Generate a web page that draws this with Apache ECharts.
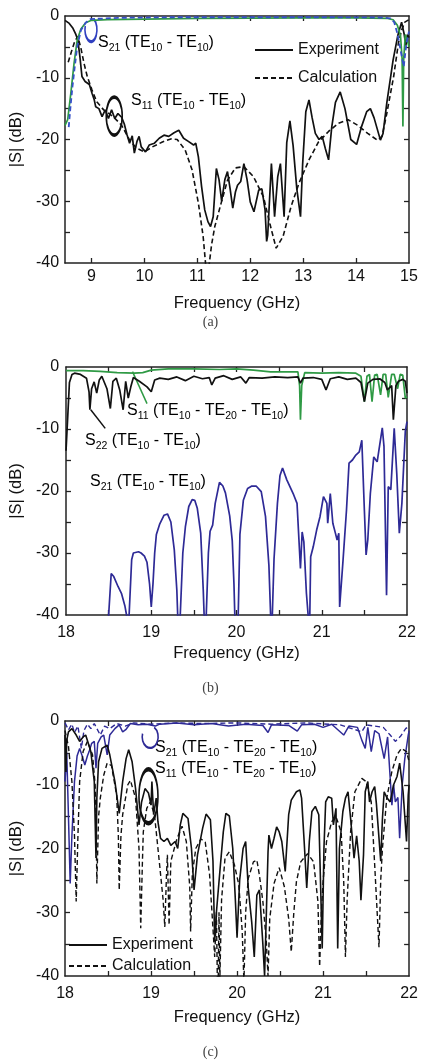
<!DOCTYPE html>
<html>
<head>
<meta charset="utf-8">
<script src="https://cdn.jsdelivr.net/npm/echarts@6/dist/echarts.min.js"></script>
<style>
html, body { margin: 0; padding: 0; background: #fff; }
#chart { width: 421px; height: 1062px; }
</style>
</head>
<body>
<div id="chart"></div>
<script>
// ---- panel (a): 8.5 - 15 GHz ----
var aS11Exp = [[8.5,-0.7],[8.58,-1.2],[8.65,-2.0],[8.7,-2.9],[8.74,-3.8],[8.78,-6.5],[8.82,-9.8],[8.88,-10.6],[8.96,-11.1],[9.01,-12.5],[9.05,-13.5],[9.08,-14.7],[9.14,-15.0],[9.2,-16.3],[9.26,-15.2],[9.32,-16.6],[9.38,-15.2],[9.44,-16.6],[9.5,-15.8],[9.57,-16.4],[9.62,-17.5],[9.67,-19.2],[9.72,-20.6],[9.77,-19.4],[9.81,-22.2],[9.86,-20.3],[9.9,-19.5],[9.94,-21.2],[10.02,-22],[10.09,-20.9],[10.19,-20.6],[10.28,-19.8],[10.37,-19.3],[10.46,-19.5],[10.56,-18.9],[10.65,-18.5],[10.74,-19.8],[10.83,-20.3],[10.93,-20.9],[10.97,-20.6],[11.02,-22.8],[11.08,-27.6],[11.14,-31.4],[11.2,-33.3],[11.25,-34.1],[11.3,-32.5],[11.36,-24.7],[11.41,-26.5],[11.46,-30],[11.52,-26.5],[11.57,-25.2],[11.62,-28],[11.67,-31.1],[11.72,-28.5],[11.76,-27.4],[11.82,-26.8],[11.88,-23.9],[11.94,-26.5],[12.0,-30.1],[12.07,-31.7],[12.16,-28.2],[12.22,-28],[12.28,-31.4],[12.31,-36.5],[12.33,-35.5],[12.4,-23.9],[12.46,-32.5],[12.52,-26],[12.57,-23.9],[12.64,-32.5],[12.69,-20.5],[12.75,-17],[12.81,-21],[12.88,-28],[12.95,-32.5],[12.99,-24],[13.05,-15.5],[13.11,-13.6],[13.17,-16.5],[13.23,-19],[13.3,-20],[13.36,-19.5],[13.42,-21.5],[13.48,-23.3],[13.54,-18],[13.61,-14],[13.7,-12.3],[13.79,-15],[13.9,-20],[14.01,-20.8],[14.1,-18],[14.2,-15.5],[14.27,-15],[14.34,-16.5],[14.46,-20.1],[14.51,-19],[14.58,-14.1],[14.7,-7.1],[14.79,-3.1],[14.86,-1.0],[14.91,-3],[14.94,-4.8],[14.97,-3],[15,-3.5]];
var aS11Calc = [[8.56,-7.5],[8.62,-5.8],[8.68,-4.2],[8.74,-3.3],[8.8,-5.2],[8.86,-7.7],[8.92,-9.8],[9.01,-12],[9.1,-13.9],[9.23,-15.2],[9.41,-16.3],[9.57,-17.7],[9.72,-20.1],[9.85,-21.4],[10.0,-22],[10.15,-21.2],[10.34,-20.4],[10.5,-19.9],[10.62,-20.0],[10.77,-21.7],[10.9,-24.9],[11.02,-30.3],[11.11,-35.7],[11.16,-40.5],[11.22,-40.5],[11.27,-37],[11.33,-34.1],[11.45,-30.3],[11.57,-26.6],[11.72,-24.6],[11.88,-24.4],[12.06,-26],[12.25,-29.3],[12.37,-33.6],[12.49,-37.6],[12.62,-35.7],[12.77,-30.9],[12.92,-27.1],[13.11,-23.3],[13.29,-20.4],[13.48,-18.7],[13.66,-17.4],[13.85,-16.8],[14.03,-17.7],[14.22,-19],[14.4,-20.1],[14.49,-19.5],[14.58,-15.8],[14.71,-9.8],[14.8,-4.4],[14.86,-2.3],[14.92,-1],[15,-0.6]];
var aS21Exp = [[8.5,-17.7],[8.55,-16.8],[8.61,-12.5],[8.67,-7.7],[8.73,-3.9],[8.8,-2.1],[8.89,-1.1],[9.0,-0.7],[9.3,-0.6],[10,-0.5],[11,-0.4],[12,-0.35],[13,-0.3],[14,-0.3],[14.6,-0.4],[14.7,-0.6],[14.78,-1.5],[14.84,-3.2],[14.87,-7],[14.885,-17.9],[14.9,-7],[14.93,-3],[14.97,-4],[15,-5]];
var aS21Calc = [[8.57,-18],[8.6,-15],[8.64,-11.5],[8.68,-8.5],[8.73,-5],[8.8,-2.3],[8.89,-1.1],[8.98,-0.5],[9.5,-0.3],[10.5,-0.2],[12,-0.2],[13.5,-0.2],[14.5,-0.25],[14.65,-0.4],[14.72,-1],[14.78,-2.8],[14.84,-5.5],[14.9,-8.2],[14.95,-4.5],[15,-2.5]];

// ---- panel (b): 18 - 22 GHz ----
var bS11 = [[18.0,-0.6],[18.2,-0.6],[18.4,-0.7],[18.6,-0.9],[18.8,-1.0],[18.9,-0.9],[19.0,-0.5],[19.2,-0.3],[19.5,-0.3],[19.8,-0.4],[20.0,-0.3],[20.2,-0.5],[20.4,-0.8],[20.6,-0.8],[20.72,-0.8],[20.74,-3],[20.75,-8.5],[20.765,-3],[20.8,-0.9],[21.0,-1.0],[21.2,-0.9],[21.4,-1.0],[21.46,-1.5],[21.5,-5.6],[21.53,-1.5],[21.56,-1.2],[21.59,-5.6],[21.62,-1.3],[21.65,-1.2],[21.69,-4.5],[21.72,-1.2],[21.75,-1.2],[21.78,-4.9],[21.82,-1.2],[21.85,-1.2],[21.89,-3.5],[21.92,-1.2],[21.95,-1.3],[21.98,-5],[22,-4.8]];
var bS22 = [[18.0,-13.5],[18.02,-8],[18.04,-2.5],[18.07,-1.2],[18.1,-1.0],[18.17,-1.2],[18.24,-1.8],[18.27,-4],[18.28,-6.9],[18.3,-3.5],[18.33,-2.4],[18.36,-4.2],[18.39,-2.1],[18.42,-1.5],[18.45,-2.5],[18.48,-3.5],[18.52,-6.7],[18.55,-2.3],[18.59,-1.8],[18.63,-3.7],[18.67,-6.9],[18.7,-2.3],[18.73,-5],[18.76,-3.2],[18.79,-1.7],[18.86,-2.3],[18.95,-3.2],[19.0,-4.0],[19.04,-2.1],[19.1,-1.8],[19.2,-2.0],[19.3,-1.6],[19.4,-2.2],[19.5,-1.5],[19.6,-1.9],[19.68,-1.7],[19.71,-2.9],[19.75,-1.8],[19.85,-1.4],[19.95,-2.0],[20.05,-1.6],[20.11,-2.6],[20.15,-1.7],[20.3,-1.8],[20.45,-1.6],[20.6,-1.7],[20.72,-1.6],[20.75,-2.6],[20.78,-1.8],[20.9,-1.7],[21.0,-2.0],[21.05,-3.7],[21.1,-1.9],[21.2,-1.6],[21.3,-2.0],[21.4,-1.8],[21.46,-2.5],[21.5,-5.6],[21.54,-2.6],[21.6,-2.0],[21.68,-1.9],[21.74,-2.5],[21.77,-3.7],[21.82,-3],[21.84,-8.5],[21.87,-3],[21.9,-2.3],[21.95,-2.0],[21.98,-2.3],[22,-4.2]];
var bS21 = [[18.48,-45],[18.5,-40],[18.53,-33.3],[18.56,-33.8],[18.61,-35.4],[18.65,-36.5],[18.69,-38.5],[18.71,-40],[18.72,-45],[18.74,-40],[18.77,-31.1],[18.79,-30],[18.81,-29.7],[18.85,-29.8],[18.88,-30],[18.92,-30.5],[18.95,-31.5],[18.98,-35],[19.0,-38.7],[19.02,-35],[19.04,-30],[19.06,-27],[19.1,-25.3],[19.15,-23.9],[19.19,-23.7],[19.23,-25],[19.27,-29.5],[19.3,-36],[19.31,-40],[19.32,-45],[19.34,-40],[19.37,-30],[19.4,-25.8],[19.44,-22.5],[19.48,-21.4],[19.51,-21.5],[19.54,-22.8],[19.58,-26.8],[19.61,-36],[19.62,-40],[19.63,-45],[19.645,-40],[19.67,-30],[19.69,-26.5],[19.72,-25.5],[19.75,-22],[19.8,-18.6],[19.84,-19.2],[19.87,-20.3],[19.92,-24],[19.95,-28],[19.97,-35],[19.98,-40],[19.99,-45],[20.02,-40],[20.04,-27],[20.08,-21.5],[20.13,-19.6],[20.18,-19.2],[20.23,-19.2],[20.29,-20.1],[20.34,-24.1],[20.38,-32],[20.4,-40],[20.41,-45],[20.42,-40],[20.44,-31],[20.48,-22],[20.51,-17.5],[20.54,-16.3],[20.59,-18.2],[20.67,-20.6],[20.71,-22],[20.75,-32.5],[20.77,-26.6],[20.79,-28.2],[20.82,-36.5],[20.84,-40],[20.85,-45],[20.86,-40],[20.87,-30.6],[20.9,-29],[20.94,-26.3],[20.98,-24.1],[21.02,-20.9],[21.06,-22],[21.07,-25.2],[21.1,-20.4],[21.13,-25.2],[21.16,-26.8],[21.18,-27.9],[21.2,-26.8],[21.21,-38.7],[21.25,-31.1],[21.29,-23.1],[21.32,-15.5],[21.36,-15],[21.4,-14.2],[21.44,-13.7],[21.47,-11.8],[21.5,-23.1],[21.52,-30.3],[21.54,-27.9],[21.57,-20.4],[21.61,-14.5],[21.65,-15.3],[21.71,-9.8],[21.73,-12.8],[21.76,-36.8],[21.78,-19.3],[21.81,-19.8],[21.85,-9.9],[21.88,-17.2],[21.91,-26.8],[21.94,-22],[21.98,-10.4],[22,-8.8]];

// ---- panel (c): 18 - 22 GHz ----
var cS11Exp = [[18.0,-2.2],[18.01,-8],[18.02,-3],[18.04,-1.7],[18.08,-1.2],[18.13,-2.2],[18.17,-3.2],[18.21,-2.5],[18.24,-2.2],[18.3,-4.8],[18.34,-9.5],[18.36,-21.5],[18.37,-12.1],[18.39,-6.4],[18.43,-4.3],[18.49,-3.8],[18.52,-5.3],[18.58,-9.5],[18.63,-14.5],[18.67,-9.5],[18.71,-5.9],[18.74,-4.5],[18.78,-6.4],[18.82,-10.6],[18.86,-16.3],[18.89,-12.7],[18.93,-10.6],[18.97,-11.3],[19.0,-13.2],[19.01,-9.5],[19.03,-14.7],[19.06,-12.1],[19.08,-15.8],[19.11,-18.4],[19.15,-18.9],[19.19,-18.4],[19.23,-19.5],[19.28,-18.9],[19.31,-20],[19.34,-16.3],[19.37,-14.5],[19.43,-15.3],[19.47,-20],[19.5,-26.5],[19.54,-21],[19.6,-16.8],[19.64,-14.6],[19.69,-15.5],[19.72,-22],[19.74,-34.6],[19.76,-30],[19.8,-23.6],[19.84,-17.4],[19.87,-14.5],[19.91,-14.9],[19.95,-20],[19.98,-28],[20.0,-34],[20.03,-25],[20.07,-20],[20.1,-18.9],[20.13,-26.2],[20.17,-31.5],[20.2,-37],[20.23,-27.3],[20.26,-26.5],[20.3,-35],[20.32,-40],[20.34,-30.4],[20.36,-20.5],[20.37,-17.9],[20.4,-20],[20.43,-18.4],[20.46,-16.6],[20.49,-17.4],[20.52,-18.9],[20.56,-23.6],[20.6,-14.7],[20.63,-12.4],[20.69,-11.1],[20.73,-10.8],[20.75,-12.1],[20.78,-18.9],[20.81,-26.2],[20.84,-18.9],[20.87,-14.2],[20.91,-13.4],[20.95,-14.7],[20.97,-25.2],[20.99,-35.7],[21.01,-20],[21.03,-12.7],[21.06,-11.9],[21.1,-12.1],[21.12,-16.3],[21.15,-13.7],[21.17,-35.7],[21.19,-20],[21.23,-14.2],[21.26,-12.1],[21.29,-11.1],[21.32,-15.3],[21.36,-21.5],[21.39,-18],[21.42,-22],[21.44,-28.1],[21.47,-21],[21.49,-11.1],[21.52,-9.5],[21.54,-12.7],[21.57,-11.1],[21.6,-10.3],[21.62,-13],[21.67,-22],[21.69,-15.3],[21.71,-11.1],[21.74,-12],[21.78,-12.7],[21.82,-10],[21.86,-8.7],[21.89,-6.6],[21.93,-11.1],[21.97,-18.9],[21.99,-11.6],[22,-10]];
var cS11Calc = [[18.0,-1.5],[18.04,-4],[18.08,-9.5],[18.11,-18],[18.13,-28.3],[18.15,-18],[18.17,-9.5],[18.21,-4.8],[18.26,-3.2],[18.32,-5.3],[18.35,-10],[18.36,-14.7],[18.37,-25.5],[18.39,-15],[18.41,-12.1],[18.45,-8.5],[18.49,-6.6],[18.54,-7],[18.6,-11.6],[18.62,-18],[18.63,-26.5],[18.65,-18],[18.67,-14.7],[18.73,-10],[18.76,-9.3],[18.82,-12.1],[18.86,-20],[18.88,-32.5],[18.9,-22],[18.91,-17.4],[18.95,-13.7],[18.99,-12.7],[19.04,-14.7],[19.1,-22.6],[19.14,-28],[19.16,-32.3],[19.18,-24],[19.19,-21],[19.21,-32],[19.23,-22],[19.3,-18.5],[19.36,-16.5],[19.41,-18.9],[19.45,-26],[19.46,-33],[19.48,-24],[19.52,-20],[19.58,-18.5],[19.63,-19],[19.68,-24],[19.71,-30.4],[19.74,-37],[19.76,-30],[19.77,-40],[19.78,-42],[19.79,-30],[19.8,-40.5],[19.82,-28],[19.86,-21.5],[19.91,-20.5],[19.97,-22.6],[20.02,-25.7],[20.06,-33],[20.08,-41],[20.1,-30],[20.13,-24.7],[20.19,-22.1],[20.23,-21.8],[20.26,-24.2],[20.3,-28.3],[20.34,-34.6],[20.36,-40],[20.38,-31],[20.43,-25.5],[20.49,-23],[20.55,-26],[20.6,-31],[20.63,-36.2],[20.66,-30],[20.69,-25.2],[20.74,-22.1],[20.82,-20.8],[20.89,-22.1],[20.94,-28.3],[20.96,-38.5],[20.98,-30],[21.0,-25.2],[21.04,-18.9],[21.1,-15.8],[21.15,-15],[21.21,-17.4],[21.24,-25.2],[21.26,-37],[21.28,-28],[21.32,-17.4],[21.37,-11.1],[21.45,-9],[21.5,-9.5],[21.56,-12.7],[21.6,-22.6],[21.65,-35.5],[21.67,-25],[21.69,-20],[21.74,-12.1],[21.8,-7.9],[21.86,-5.3],[21.91,-4.3],[21.97,-4.8],[22,-6.4]];
var cS21Exp = [[18.0,-9.5],[18.02,-5],[18.04,-15],[18.06,-25.5],[18.08,-18],[18.11,-9.5],[18.14,-5.5],[18.17,-4.3],[18.2,-5.5],[18.23,-6.9],[18.26,-5.5],[18.28,-4.8],[18.31,-3.5],[18.34,-3.2],[18.36,-7.4],[18.38,-3.5],[18.42,-2.5],[18.45,-2.2],[18.49,-5.3],[18.52,-2.2],[18.58,-1.2],[18.63,-0.6],[18.67,-1.7],[18.71,-1.3],[18.76,-0.4],[18.85,-0.6],[18.95,-0.5],[19.05,-0.8],[19.1,-0.5],[19.3,-0.3],[19.5,-0.6],[19.7,-0.4],[19.9,-0.8],[20.1,-0.5],[20.3,-0.7],[20.36,-1.8],[20.4,-0.6],[20.6,-0.7],[20.7,-1.6],[20.75,-0.6],[20.9,-0.5],[21.0,-1.0],[21.1,-0.5],[21.24,-2.2],[21.3,-0.8],[21.4,-1.0],[21.45,-3],[21.49,-4.3],[21.52,-1.0],[21.56,-4.8],[21.6,-1.5],[21.65,-2],[21.71,-5.9],[21.75,-2.5],[21.8,-13.2],[21.82,-10],[21.84,-12.7],[21.87,-12],[21.89,-18.4],[21.92,-10],[21.95,-5.9],[21.99,-2.2],[22,-1.5]];
var cS21Calc = [[18.0,-0.3],[18.04,-1.4],[18.08,-0.5],[18.11,-1.8],[18.15,-0.8],[18.19,-4.3],[18.22,-1.5],[18.26,-0.5],[18.3,-1.2],[18.34,-0.4],[18.41,-2.2],[18.46,-0.8],[18.52,-1.2],[18.6,-0.4],[18.7,-0.8],[18.8,-0.3],[19.0,-0.5],[19.3,-0.3],[19.6,-0.4],[20.0,-0.3],[20.4,-0.5],[20.8,-0.3],[21.2,-0.6],[21.45,-1.7],[21.5,-0.6],[21.7,-1.0],[21.78,-2.2],[21.84,-3.2],[21.9,-2.4],[21.96,-1.2],[22,-0.8]];

// ticks and labels
var aFreqTicks = [9, 10, 11, 12, 13, 14];
var aFreqLabels = [9, 10, 11, 12, 13, 14, 15];
var bcFreqTicks = [18.5, 19, 19.5, 20, 20.5, 21, 21.5];
var bcFreqLabels = [18, 19, 20, 21, 22];
var dbTicks = [-35, -30, -25, -20, -15, -10, -5];
var dbLabels = [-40, -30, -20, -10, 0];

var FONT = "'Liberation Sans', Arial, Helvetica, sans-serif";
var INK = '#111';
var GREEN = '#2f9a45';
var NAVY = '#2e2a96';
var BLUE = '#3550c8';

var chart = echarts.init(document.getElementById('chart'));

function axisPair(kind, g, min, max, ticks, labels, margin, gap, name) {
  var line = { show: true, onZero: false, lineStyle: { color: '#222', width: 1.5 } };
  var tick = { show: true, inside: true, length: 5, customValues: ticks, lineStyle: { color: '#222', width: 1.3 } };
  var main = {
    type: 'value', gridIndex: g, min: min, max: max,
    position: kind === 'x' ? 'bottom' : 'left',
    axisLine: line, axisTick: tick, splitLine: { show: false },
    axisLabel: { customValues: labels, margin: margin, fontSize: 16, color: INK, fontFamily: FONT },
    name: name, nameLocation: 'middle', nameGap: gap,
    nameTextStyle: { fontSize: 16.5, color: INK, fontFamily: FONT }
  };
  if (kind === 'y') main.nameRotate = 90;
  var other = {
    type: 'value', gridIndex: g, min: min, max: max,
    position: kind === 'x' ? 'top' : 'right',
    axisLine: line, axisTick: tick, splitLine: { show: false },
    axisLabel: { show: false }
  };
  return [main, other];
}

var grids = [
  { left: 59, top: 16, width: 350, height: 247 },
  { left: 60, top: 367, width: 347, height: 248 },
  { left: 53, top: 721, width: 360, height: 255 }
];

var xAxes = [].concat(
  axisPair('x', 0, 8.5, 15, aFreqTicks, aFreqLabels, 6, 32, 'Frequency (GHz)'),
  axisPair('x', 1, 18, 22, bcFreqTicks, bcFreqLabels, 10, 30, 'Frequency (GHz)'),
  axisPair('x', 2, 18, 22, bcFreqTicks, bcFreqLabels, 10, 33, 'Frequency (GHz)')
);
var yAxes = [].concat(
  axisPair('y', 0, -40, 0, dbTicks, dbLabels, 6, 36, '|S| (dB)'),
  axisPair('y', 1, -40, 0, dbTicks, dbLabels, 7, 37, '|S| (dB)'),
  axisPair('y', 2, -40, 0, dbTicks, dbLabels, 6, 30, '|S| (dB)')
);

function curve(name, g, data, color, dashed, width) {
  return {
    name: name, type: 'line', xAxisIndex: 2 * g, yAxisIndex: 2 * g,
    data: data, showSymbol: false, symbol: 'none', silent: true,
    clip: true, animation: false,
    lineStyle: { color: color, width: width || 1.5, type: dashed ? [5, 3] : 'solid' },
    itemStyle: { color: color }
  };
}

var legendText = { fontSize: 16, color: INK, fontFamily: FONT };
var capStyle = { fontSize: 14, fontWeight: 'normal', color: '#444', fontFamily: "'Liberation Serif', 'DejaVu Serif', serif" };
// line-only legend marks: hide the symbol that line series add to their legend icon
var legendMark = { opacity: 0 };

chart.setOption({
  backgroundColor: '#fff',
  animation: false,
  title: [
    { text: '(a)', left: 'center', top: 310, textStyle: capStyle },
    { text: '(b)', left: 'center', top: 676, textStyle: capStyle },
    { text: '(c)', left: 'center', top: 1040, textStyle: capStyle }
  ],
  legend: [
    { data: ['Experiment', 'Calculation'], orient: 'vertical', left: 249, top: 37,
      itemWidth: 38, itemHeight: 14, itemGap: 12, textStyle: legendText,
      itemStyle: legendMark, selectedMode: false },
    { data: ['Experiment', 'Calculation'], orient: 'vertical', left: 63, top: 932,
      itemWidth: 38, itemHeight: 14, itemGap: 5, textStyle: legendText,
      itemStyle: legendMark, selectedMode: false }
  ],
  grid: grids,
  xAxis: xAxes,
  yAxis: yAxes,
  series: [
    curve('Experiment', 0, aS11Exp, INK, false, 1.7),
    curve('Calculation', 0, aS11Calc, INK, true, 1.6),
    curve('S21 exp (a)', 0, aS21Exp, GREEN, false, 1.7),
    curve('S21 calc (a)', 0, aS21Calc, BLUE, true, 1.8),
    curve('S11 (b)', 1, bS11, GREEN, false, 1.7),
    curve('S22 (b)', 1, bS22, INK, false, 1.7),
    curve('S21 (b)', 1, bS21, NAVY, false, 1.7),
    curve('S21 calc (c)', 2, cS21Calc, NAVY, true, 1.4),
    curve('S21 exp (c)', 2, cS21Exp, NAVY, false, 1.5),
    curve('Calculation', 2, cS11Calc, INK, true, 1.4),
    curve('Experiment', 2, cS11Exp, INK, false, 1.6)
  ]
});

// ---- annotations: curve labels, loops and pointer lines ----
function px(g, x, y) {
  return chart.convertToPixel({ xAxisIndex: 2 * g, yAxisIndex: 2 * g }, [x, y]);
}
var rich = {
  m: { fontSize: 16, lineHeight: 22, color: INK, fontFamily: FONT },
  s: { fontSize: 10.5, lineHeight: 10, verticalAlign: 'bottom', color: INK, fontFamily: FONT }
};
function sLabel(x, y, port, modes) {
  var t = '{m|S}{s|' + port + '}{m| (}';
  modes.forEach(function (md, i) {
    t += (i ? '{m| - TE}' : '{m|TE}') + '{s|' + md + '}';
  });
  t += '{m|)}';
  return { type: 'text', x: x, y: y, silent: true,
    style: { text: t, rich: rich, verticalAlign: 'middle', align: 'left' } };
}
function loop(g, x, y, rx, ry, color, a0, a1) {
  var p = px(g, x, y);
  return { type: 'arc', x: p[0], y: p[1], scaleY: ry / rx, silent: true,
    shape: { cx: 0, cy: 0, r: rx, startAngle: a0, endAngle: a1, clockwise: true },
    style: { stroke: color, fill: null, lineWidth: 1.6, strokeNoScale: true } };
}
function pointer(g, x1, y1, x2, y2, color) {
  var p1 = px(g, x1, y1), p2 = px(g, x2, y2);
  return { type: 'line', silent: true,
    shape: { x1: p1[0], y1: p1[1], x2: p2[0], y2: p2[1] },
    style: { stroke: color, lineWidth: 1.5 } };
}

chart.setOption({
  graphic: [
    sLabel(98, 43, '21', ['10', '10']),
    sLabel(131, 101, '11', ['10', '10']),
    loop(0, 8.99, -2.2, 6, 12, '#3040c0', -Math.PI / 3, Math.PI * 1.1),
    loop(0, 9.43, -16.2, 8, 19, INK, 0, Math.PI * 2),

    sLabel(127, 411, '11', ['10', '20', '10']),
    sLabel(85, 441, '22', ['10', '10']),
    sLabel(90, 482, '21', ['10', '10']),
    pointer(1, 18.78, -0.75, 18.95, -5.9, GREEN),
    pointer(1, 18.29, -6.9, 18.46, -9.9, INK),

    sLabel(155, 748, '21', ['10', '20', '10']),
    sLabel(155, 769, '11', ['10', '20', '10']),
    loop(2, 18.99, -2.5, 8, 11, NAVY, -Math.PI / 3, Math.PI * 1.1),
    loop(2, 18.97, -11.8, 9.5, 27, INK, 0, Math.PI * 2)
  ]
});
</script>
</body>
</html>
